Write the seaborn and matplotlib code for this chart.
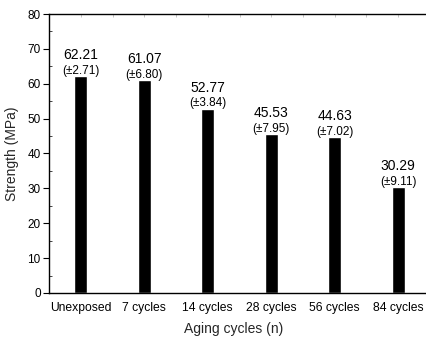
import matplotlib
matplotlib.use("Agg")
import matplotlib.pyplot as plt
import seaborn as sns
import pandas as pd
from matplotlib.ticker import MultipleLocator

categories = ["Unexposed", "7 cycles", "14 cycles", "28 cycles", "56 cycles", "84 cycles"]
strength = [62.21, 61.07, 52.77, 45.53, 44.63, 30.29]
deviation = [2.71, 6.80, 3.84, 7.95, 7.02, 9.11]

sns.set_theme(style="white")
plt.rcParams["font.family"] = ["Liberation Sans", "DejaVu Sans"]

df = pd.DataFrame({"cycles": categories, "strength": strength})

fig = plt.figure(figsize=(4.27, 3.39), dpi=100)
ax = fig.add_axes([0.1148, 0.1357, 0.8852, 0.823])

sns.barplot(data=df, x="cycles", y="strength", color="black", saturation=1,
            width=0.21, ax=ax)

ax.set_xlim(-0.5, 5.453)
ax.set_ylim(0, 80)
ax.yaxis.set_major_locator(MultipleLocator(10))
ax.yaxis.set_minor_locator(MultipleLocator(5))

# value and standard deviation above each bar
for i, (v, d) in enumerate(zip(strength, deviation)):
    ax.annotate(f"{v:.2f}", (i, v), xytext=(0, 12.4), textcoords="offset points",
                ha="center", va="baseline", fontsize=10, color="black")
    ax.annotate(f"(\u00b1{d:.2f})", (i, v), xytext=(0, 1.8), textcoords="offset points",
                ha="center", va="baseline", fontsize=8.5, color="black")

ax.set_xlabel("Aging cycles (n)", fontsize=10)
ax.xaxis.label.set_va("baseline")
ax.xaxis.set_label_coords(0.489, -0.143)
ax.set_ylabel("Strength (MPa)", fontsize=10)
ax.yaxis.label.set_va("center")
ax.yaxis.set_label_coords(-0.098, 0.5)

for side in ["left", "top", "bottom"]:
    ax.spines[side].set_visible(True)
    ax.spines[side].set_color("black")
    ax.spines[side].set_linewidth(1.0)
ax.spines["right"].set_visible(False)

ax.tick_params(axis="y", which="major", direction="out", length=4, width=0.8,
               left=True, labelsize=8.5, pad=2, colors="black")
ax.tick_params(axis="y", which="minor", direction="in", length=2, width=0.6, left=True)
ax.tick_params(axis="x", which="major", bottom=False, top=False, labelsize=8.7,
               pad=0.8, colors="black")

# faint inward ticks along the top edge at categories and midpoints
sec = ax.secondary_xaxis("top")
sec.set_xticks([k * 0.5 for k in range(0, 12)])
sec.set_xticklabels([])
sec.tick_params(direction="in", length=2.5, width=0.6, color="#bbbbbb")
sec.spines["top"].set_visible(False)

fig.savefig("out.png", dpi=100)
